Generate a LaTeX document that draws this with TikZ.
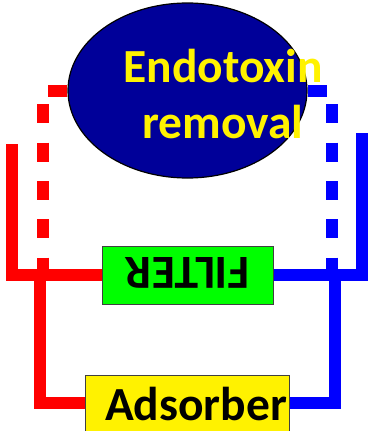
\documentclass[tikz,border=0pt]{standalone}
\usepackage{fontspec}
\setmainfont{Carlito}
\usetikzlibrary{shapes.geometric, positioning, backgrounds}
\definecolor{endoblue}{RGB}{0,0,153}

\begin{document}
\begin{tikzpicture}[x=1pt, y=-1pt,
	big text/.style={font=\fontsize{47.5}{56}\selectfont\bfseries},
	unit box/.style={draw=black!75, line width=1pt, inner sep=0pt},
	red line/.style={red, line width=12pt},
	blue line/.style={blue, line width=12pt},
	dash line/.style={dash pattern=on 19pt off 19.3pt},
	]
	\useasboundingbox (0,0) rectangle (367,431);
	\clip (0,0) rectangle (367,431);
	
	% Endotoxin removal unit
	\node[ellipse, draw=black, line width=1.2pt, fill=endoblue,
	minimum width=239pt, minimum height=175pt, inner sep=0pt] (endo) at (187.5,90.5) {};
	\node[big text, text=yellow, align=center, anchor=base] (endotext) at (223,138) {Endotoxin\\removal};
	
	% FILTER (upside down)
	\node[unit box, fill=green, minimum width=171pt, minimum height=58pt,
	big text, rotate=180, text height=36pt, text depth=0pt] (filter) at (187.5,275) {FILTER};
	
	% Adsorber
	\node[unit box, fill=yellow, minimum height=56pt, text width=200pt, align=right,
	inner xsep=2pt, big text, text height=34pt, text depth=0pt] (adsorber) at (187,403) {Adsorber};
	
	% Line ends and branch points
	\coordinate (rtop) at (11.5,144);
	\coordinate (rdash) at (43,274);
	\coordinate (rsplit) at (40,274);
	\coordinate (btop) at (362,133);
	\coordinate (bdash) at (332,274);
	\coordinate (bsplit) at (335,274);
	
	\begin{scope}[on background layer]
		% red side
		\draw[red line, dash line] (endo.west) -| (rdash);
		\draw[red line] (rtop) |- (filter.east);
		\draw[red line] (rsplit) |- (adsorber.west);
		% blue side
		\draw[blue line, dash line] (endo.east) -| (bdash);
		\draw[blue line] (btop) |- (filter.west);
		\draw[blue line] (bsplit) |- (adsorber.east);
	\end{scope}
	
\end{tikzpicture}
\end{document}
